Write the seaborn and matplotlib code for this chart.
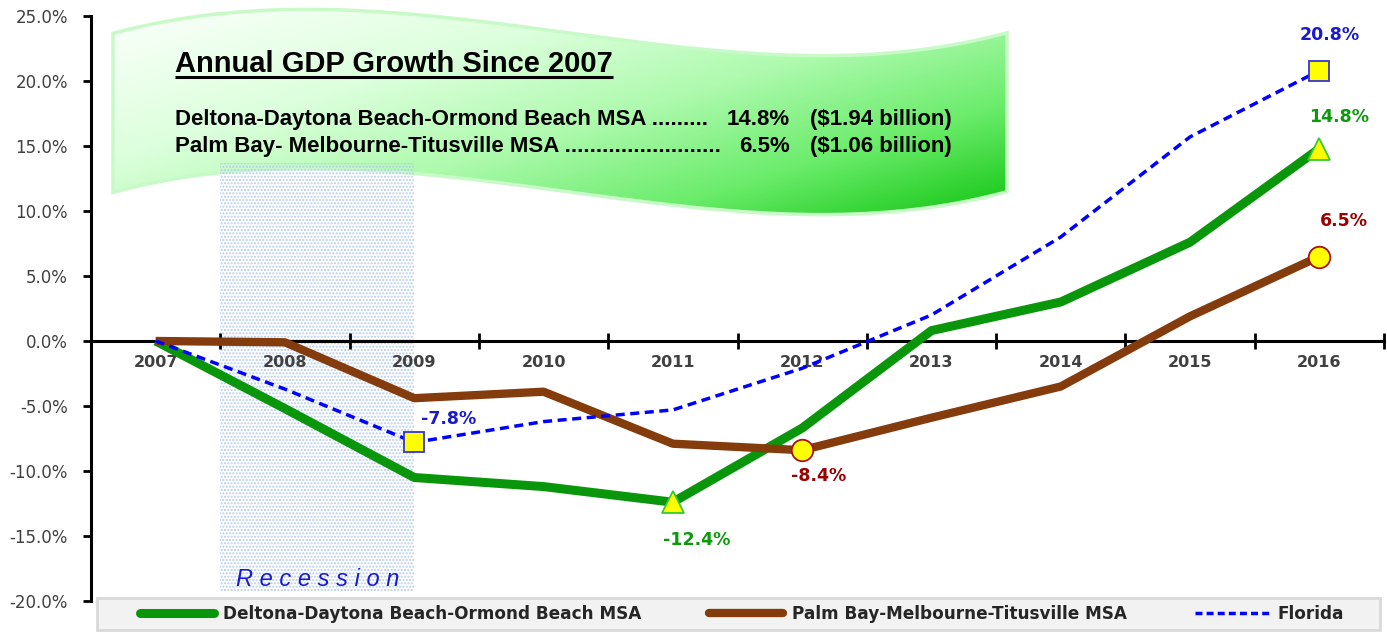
import numpy as np
import pandas as pd
import matplotlib
matplotlib.use("Agg")
import matplotlib.pyplot as plt
import seaborn as sns
from matplotlib.patches import Polygon, Rectangle
from matplotlib.colors import LinearSegmentedColormap
from matplotlib.lines import Line2D

# ---------------- data ----------------
years = ["2007", "2008", "2009", "2010", "2011", "2012", "2013", "2014", "2015", "2016"]
deltona = [0.0, -5.2, -10.5, -11.2, -12.4, -6.7, 0.8, 3.0, 7.6, 14.8]
palm_bay = [0.0, -0.1, -4.4, -3.9, -7.9, -8.4, -5.9, -3.5, 1.9, 6.5]
florida = [0.0, -3.7, -7.8, -6.2, -5.3, -2.1, 2.0, 8.0, 15.7, 20.8]
series_names = ["Deltona-Daytona Beach-Ormond Beach MSA",
                "Palm Bay-Melbourne-Titusville MSA",
                "Florida"]
yticks = [-20, -15, -10, -5, 0, 5, 10, 15, 20, 25]
ytick_labels = ["-20.0%", "-15.0%", "-10.0%", "-5.0%", "0.0%", "5.0%",
                "10.0%", "15.0%", "20.0%", "25.0%"]
# which points are flagged with a marker and label
deltona_marked = [4, 9]
palm_marked = [5, 9]
florida_marked = [2, 9]
recession_years = (0.5, 2.0)   # from mid-2007 to 2009 (category index)
banner_title = "Annual GDP Growth Since 2007"
banner_rows = [("Deltona-Daytona Beach-Ormond Beach MSA .........", "14.8%", "($1.94 billion)"),
               ("Palm Bay- Melbourne-Titusville MSA .........................", "6.5%", "($1.06 billion)")]

# ---------------- style ----------------
sns.set_theme(style="white")
plt.rcParams["font.family"] = ["DejaVu Sans"]
plt.rcParams["hatch.linewidth"] = 1.0

W, H = 1387, 632
fig = plt.figure(figsize=(W / 100, H / 100), dpi=100)

# banner / decoration layer in pixel coordinates (below the chart axes)
bax = fig.add_axes([0, 0, 1, 1], zorder=0)
bax.set_xlim(0, W)
bax.set_ylim(H, 0)
bax.axis("off")

AXL, AXR, AXT, AXB = 91, 1384, 16, 601
ax = fig.add_axes([AXL / W, 1 - AXB / H, (AXR - AXL) / W, (AXB - AXT) / H], zorder=1)
ax.set_facecolor("none")
XMIN, XMAX, YMIN, YMAX = -0.5, 9.5, -20, 25


def px(xp):
    return XMIN + (xp - AXL) / (AXR - AXL) * (XMAX - XMIN)


def py(yp):
    return YMAX - (yp - AXT) / (AXB - AXT) * (YMAX - YMIN)


idx = np.arange(len(years))
df = pd.DataFrame({"idx": idx, "deltona": deltona, "palm": palm_bay, "florida": florida})

GREEN = "#0a960a"
BROWN = "#843c0c"
BLUE = "#0000ff"

# ---------------- banner (decoration) ----------------
tx = np.array([113, 200, 300, 400, 550, 700, 833, 950, 1007], float)
ty = np.array([33, 17, 9, 13, 30, 50, 55, 45, 33], float)
coef = np.polyfit((tx - 560) / 450, ty, 4)
xs = np.linspace(113, 1007, 200)
top = np.polyval(coef, (xs - 560) / 450)
bot = top + 159
poly_px = np.vstack([np.column_stack([xs, top]), np.column_stack([xs[::-1], bot[::-1]])])
gu = np.linspace(0, 1, 300)
gv = np.linspace(0, 1, 120)
U, V = np.meshgrid(gu, gv)
T = np.clip(0.62 * U + 0.5 * V - 0.06, 0, 1)
cmap = LinearSegmentedColormap.from_list("ban", [(0, "#f8fff8"), (0.3, "#dcffdc"),
                                                 (0.55, "#aefaae"), (0.8, "#6aec6a"),
                                                 (1, "#22cc22")])
im = bax.imshow(T, cmap=cmap, vmin=0, vmax=1, aspect="auto", origin="upper",
                extent=[113, 1007, 220, 0], zorder=1, interpolation="bilinear")
clip_poly = Polygon(poly_px, closed=True, transform=bax.transData, facecolor="none", edgecolor="none")
bax.add_patch(clip_poly)
im.set_clip_path(clip_poly)
bax.add_patch(Polygon(poly_px, closed=True, facecolor="none", edgecolor="#c8fac8", lw=2.5, zorder=2))

title_txt = bax.text(175, 72, banner_title, fontsize=21, fontweight="bold",
                     family="Liberation Sans", va="baseline", ha="left", color="black", zorder=5)
for (lab, pct, amt), base in zip(banner_rows, [125, 152]):
    bax.text(175, base, lab, fontsize=16, fontweight="bold", family="Liberation Sans",
             va="baseline", ha="left", zorder=5, color="black")
    bax.text(790, base, pct, fontsize=16, fontweight="bold", family="Liberation Sans",
             va="baseline", ha="right", zorder=5, color="black")
    bax.text(810, base, amt, fontsize=16, fontweight="bold", family="Liberation Sans",
             va="baseline", ha="left", zorder=5, color="black")

# ---------------- recession shading ----------------
ax.add_patch(Rectangle((recession_years[0], py(592)), recession_years[1] - recession_years[0],
                       py(163) - py(592), facecolor="none", edgecolor="#b4cdee",
                       hatch=".....", lw=0, zorder=1))
ax.text(px(236), py(586), "R e c e s s i o n", fontsize=17, style="italic",
        family="Liberation Sans", color="#1a1acc", va="baseline", ha="left", zorder=5)

# ---------------- lines ----------------
sns.lineplot(data=df, x="idx", y="deltona", ax=ax, color=GREEN, lw=6.5, zorder=6,
             label=series_names[0], solid_capstyle="butt")
sns.lineplot(data=df, x="idx", y="palm", ax=ax, color=BROWN, lw=6.0, zorder=6,
             label=series_names[1], solid_capstyle="butt")
sns.lineplot(data=df, x="idx", y="florida", ax=ax, color=BLUE, lw=2.5, zorder=7,
             label=series_names[2])
ax.lines[-1].set_dashes((2.6, 1.6))
if ax.get_legend():
    ax.get_legend().remove()

ax.plot(idx[florida_marked], np.array(florida)[florida_marked], ls="none", marker="s", ms=15,
        mfc="#ffff00", mec="#3434d8", mew=1.3, zorder=9)
ax.plot(idx[deltona_marked], np.array(deltona)[deltona_marked], ls="none", marker="^", ms=16,
        mfc="#ffff00", mec="#33cc33", mew=1.3, zorder=9)
ax.plot(idx[palm_marked], np.array(palm_bay)[palm_marked], ls="none", marker="o", ms=15.5,
        mfc="#ffff00", mec="#aa1010", mew=1.3, zorder=9)

ann_kw = dict(textcoords="offset pixels", ha="center", va="center", fontsize=12.5,
              fontweight="bold", zorder=10)
offsets_fl = {2: (34, 23), 9: (10, 36)}
offsets_de = {4: (24, -38), 9: (20, 32)}
offsets_pb = {5: (16, -26), 9: (25, 35)}
for i in florida_marked:
    ax.annotate(f"{florida[i]:.1f}%", (idx[i], florida[i]), xytext=offsets_fl[i], color="#1a1acd", **ann_kw)
for i in deltona_marked:
    ax.annotate(f"{deltona[i]:.1f}%", (idx[i], deltona[i]), xytext=offsets_de[i], color="#0a9a0a", **ann_kw)
for i in palm_marked:
    ax.annotate(f"{palm_bay[i]:.1f}%", (idx[i], palm_bay[i]), xytext=offsets_pb[i], color="#990000", **ann_kw)

# ---------------- axes ----------------
ax.set_xlim(XMIN, XMAX)
ax.set_ylim(YMIN, YMAX)
ax.set_xlabel("")
ax.set_ylabel("")
ax.set_axisbelow(False)
for s in ["top", "right"]:
    ax.spines[s].set_visible(False)
ax.spines["bottom"].set_position(("data", 0))
ax.spines["bottom"].set_linewidth(2.2)
ax.spines["left"].set_linewidth(2.2)
ax.spines["bottom"].set_color("black")
ax.spines["left"].set_color("black")
ax.spines["bottom"].set_zorder(4)

ax.set_xticks(np.arange(-0.5, 10, 1.0))
ax.set_xticklabels([])
ax.set_xticks(idx, minor=True)
ax.set_xticklabels(years, minor=True)
ax.tick_params(axis="x", which="major", direction="inout", length=11, width=2, color="black", bottom=True)
ax.tick_params(axis="x", which="minor", length=0, pad=10, labelsize=11.5, labelcolor="#404040", bottom=True)
for t in ax.get_xticklabels(minor=True):
    t.set_fontweight("bold")

ax.set_yticks(yticks)
ax.set_yticklabels(ytick_labels)
ax.tick_params(axis="y", which="major", direction="out", length=6, width=2, color="black", left=True,
               labelsize=12, labelcolor="#404040", pad=10.5)

# ---------------- legend ----------------
fig.patches.append(Rectangle((97 / W, 1 - 630 / H), (1380 - 97) / W, (630 - 598) / H,
                             transform=fig.transFigure, facecolor="#f2f2f2",
                             edgecolor="#d9d9d9", lw=2, zorder=20))
handles = [Line2D([], [], color=GREEN, lw=6.5, solid_capstyle="round"),
           Line2D([], [], color=BROWN, lw=6.0, solid_capstyle="round"),
           Line2D([], [], color=BLUE, lw=2.5, dashes=(2.0, 1.2))]
leg = fig.legend(handles, series_names, loc="center", bbox_to_anchor=(742 / W, 1 - 614 / H),
                 ncol=3, frameon=False, handlelength=4.4, handletextpad=0.5,
                 columnspacing=4.0, prop={"family": "DejaVu Sans", "weight": "bold", "size": 12.2})
leg.set_zorder(21)
for t in leg.get_texts():
    t.set_color("#262626")

# underline for banner title
fig.canvas.draw()
bb = title_txt.get_window_extent(fig.canvas.get_renderer())
binv = bax.transData.inverted()
(x0, _), (x1, _) = binv.transform([(bb.x0, 0), (bb.x1, 0)])
bax.plot([x0, x1], [76.5, 76.5], color="black", lw=2.2, zorder=5, solid_capstyle="butt")

fig.savefig("out.png", dpi=100)
